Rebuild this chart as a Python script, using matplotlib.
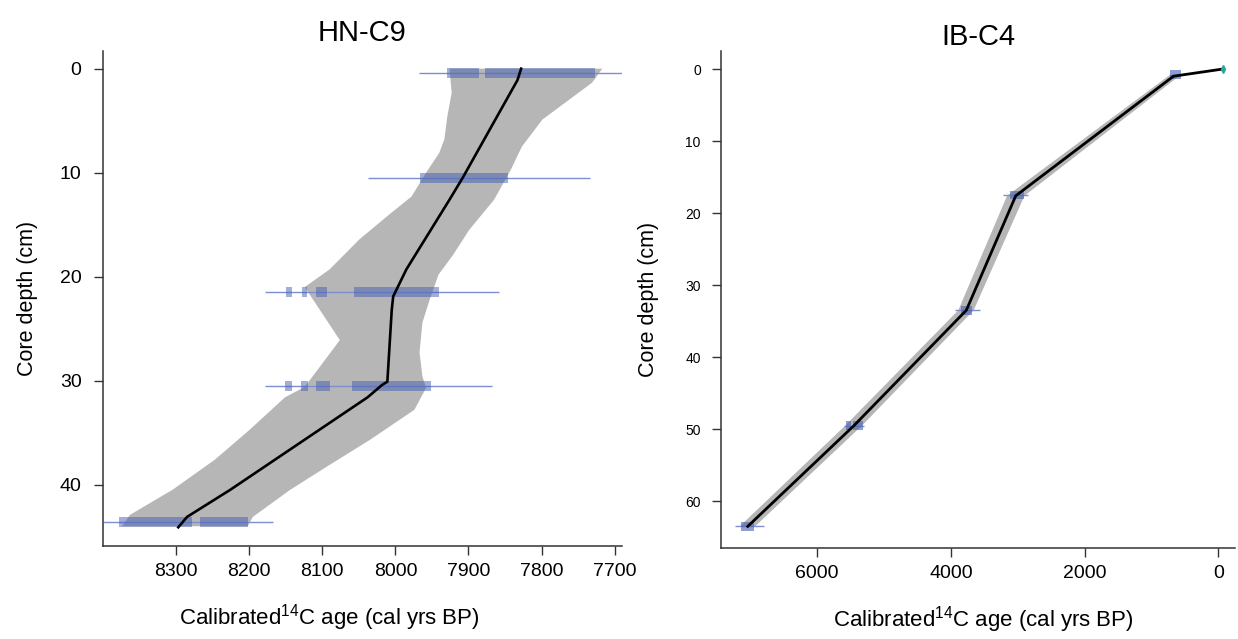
import numpy as np
import matplotlib
matplotlib.use("Agg")
import matplotlib.pyplot as plt

plt.rcParams['font.family'] = ['Liberation Sans', 'DejaVu Sans']
plt.rcParams['mathtext.fontset'] = 'custom'
plt.rcParams['mathtext.rm'] = 'Liberation Sans'

# ---------------- HN-C9 age model ----------------
hn_med_age = [7828, 7833, 7908, 7926, 7985, 8003, 8005, 8011, 8018, 8038, 8226, 8285, 8297]
hn_med_depth = [0.0, 1.1, 10.5, 12.6, 19.3, 21.9, 23.2, 30.1, 30.4, 31.6, 40.5, 43.1, 44.1]

hn_young_age = [7717, 7731, 7799, 7827, 7842, 7865, 7899, 7922, 7941, 7953, 7963, 7967,
                7963, 7958, 7974, 8035, 8090, 8144, 8195, 8202]
hn_young_depth = [0.0, 1.35, 4.9, 7.5, 9.7, 12.6, 15.5, 18.0, 19.8, 22.2, 24.4, 27.3,
                  29.6, 30.7, 32.8, 35.7, 38.1, 40.5, 43.1, 44.0]
hn_old_age = [7926, 7923, 7929, 7933, 7940, 7958, 7978, 8008, 8049, 8090, 8124, 8076,
              8124, 8151, 8199, 8247, 8305, 8363, 8374]
hn_old_depth = [0.0, 2.3, 4.6, 6.8, 8.1, 10.0, 12.3, 14.0, 16.4, 19.3, 21.0, 26.1,
                30.6, 31.6, 34.7, 37.6, 40.5, 42.9, 44.0]

hn_sample_depth = [0.4, 10.5, 21.5, 30.5, 43.6]
hn_sample_span = [(7968, 7690), (8038, 7734), (8179, 7858), (8179, 7868), (8400, 8168)]
hn_sample_ranges = [
    [(7929, 7886), (7877, 7727)],
    [(7967, 7846)],
    [(8150, 8142), (8128, 8121), (8108, 8093), (8056, 7941)],
    [(8151, 8142), (8129, 8120), (8108, 8090), (8059, 7951)],
    [(8378, 8278), (8267, 8202)],
]

# ---------------- IB-C4 age model ----------------
ib_med_age = [-70, 670, 3030, 3770, 5450, 7040]
ib_med_depth = [0.0, 1.0, 17.6, 33.5, 49.5, 63.5]
ib_young_age = [-75, 590, 2900, 3660, 5330, 6930]
ib_old_age = [-60, 750, 3160, 3890, 5580, 7160]

ib_sample_depth = [0.8, 17.5, 33.5, 49.5, 63.5]
ib_sample_span = [(740, 540), (3220, 2840), (3940, 3560), (5600, 5300), (7230, 6800)]
ib_sample_ranges = [
    [(720, 560)],
    [(3110, 2900)],
    [(3850, 3680)],
    [(5570, 5500), (5470, 5310)],
    [(7140, 6950)],
]
ib_modern_age = [-70]
ib_modern_depth = [0.0]

grey = '#b5b6b5'
blue = (0.27, 0.37, 0.70)
thin_blue = '#7d8fd0'
xlabel_text = r'Calibrated$^{\mathregular{14}}$C age (cal yrs BP)'

fig = plt.figure(figsize=(12.38, 6.39), dpi=100)
ax1 = fig.add_axes([103/1238, 1-546/639, 519/1238, 495/639])
ax2 = fig.add_axes([721/1238, 1-548/639, 514/1238, 497/639])


def style(ax):
    for s in ('top', 'right'):
        ax.spines[s].set_visible(False)
    for s in ('left', 'bottom'):
        ax.spines[s].set_color('#333333')
        ax.spines[s].set_linewidth(1.1)
    ax.tick_params(direction='out', length=6.5, width=1.0, color='#333333')


# HN-C9
ax1.fill(np.concatenate([hn_young_age, hn_old_age[::-1]]),
         np.concatenate([hn_young_depth, hn_old_depth[::-1]]),
         color=grey, lw=0, zorder=1)
for d, span, ranges in zip(hn_sample_depth, hn_sample_span, hn_sample_ranges):
    ax1.hlines(d, span[0], span[1], color=thin_blue, lw=1.0, zorder=2)
    ax1.broken_barh([(a, b - a) for a, b in ranges], (d - 0.5, 1.0),
                    facecolor=blue, alpha=0.5, lw=0, zorder=3)
ax1.plot(hn_med_age, hn_med_depth, color='black', lw=1.9, zorder=4)
ax1.set_xlim(8400, 7690)
ax1.set_ylim(45.9, -1.7)
ax1.set_xticks([8300, 8200, 8100, 8000, 7900, 7800, 7700])
ax1.set_yticks([0, 10, 20, 30, 40])
style(ax1)
ax1.tick_params(axis='both', labelsize=14)
ax1.tick_params(axis='y', pad=9)
ax1.tick_params(axis='x', pad=6)
ax1.set_title('HN-C9', fontsize=21, pad=7)
ax1.set_ylabel('Core depth (cm)', fontsize=15.5)
ax1.yaxis.set_label_coords(-0.125, 0.5)
ax1.set_xlabel(xlabel_text, fontsize=16)
ax1.xaxis.set_label_coords(0.437, -0.113)

# IB-C4
ax2.fill(np.concatenate([ib_young_age, ib_old_age[::-1]]),
         np.concatenate([ib_med_depth, ib_med_depth[::-1]]),
         color=grey, lw=0, zorder=1)
for d, span, ranges in zip(ib_sample_depth, ib_sample_span, ib_sample_ranges):
    ax2.hlines(d, span[0], span[1], color=thin_blue, lw=1.0, zorder=2)
    ax2.broken_barh([(a, b - a) for a, b in ranges], (d - 0.6, 1.2),
                    facecolor=blue, alpha=0.6, lw=0, zorder=3)
ax2.plot(ib_med_age, ib_med_depth, color='black', lw=2.0, zorder=4)
ax2.plot(ib_modern_age, ib_modern_depth, marker='d', color='#2aa79b', ms=4, lw=0, zorder=5)
ax2.set_xlim(7440, -250)
ax2.set_ylim(66.5, -2.5)
ax2.set_xticks([6000, 4000, 2000, 0])
ax2.set_yticks([0, 10, 20, 30, 40, 50, 60])
style(ax2)
ax2.tick_params(axis='x', labelsize=14, pad=6)
ax2.tick_params(axis='y', labelsize=10, pad=8)
ax2.set_title('IB-C4', fontsize=21, pad=4)
ax2.set_ylabel('Core depth (cm)', fontsize=15.5)
ax2.yaxis.set_label_coords(-0.12, 0.5)
ax2.set_xlabel(xlabel_text, fontsize=16)
ax2.xaxis.set_label_coords(0.51, -0.113)

fig.savefig('out.png', dpi=100)
